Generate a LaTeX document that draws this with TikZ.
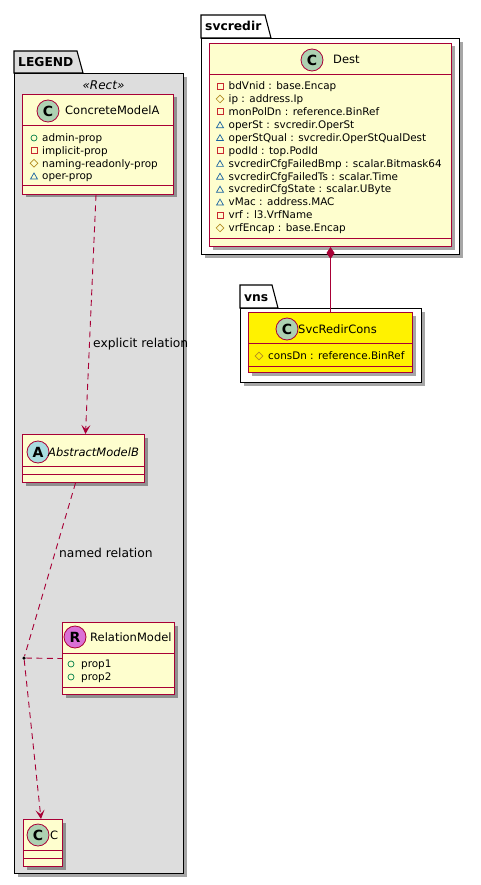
\documentclass[tikz,border=0pt]{standalone}
\usepackage{fontspec}
\setmainfont{DejaVu Sans}
\usepackage{tikz}
\usetikzlibrary{arrows.meta,positioning,calc,shapes.geometric,shadows}
\definecolor{umlred}{HTML}{A80036}
\definecolor{umlfill}{HTML}{FEFECE}
\definecolor{pkggray}{HTML}{DDDDDD}
\definecolor{spotC}{HTML}{ADD1B2}
\definecolor{spotA}{HTML}{A9DCDF}
\definecolor{spotR}{HTML}{DA70D6}
\definecolor{pubgreen}{HTML}{038048}
\definecolor{privred}{HTML}{C82930}
\definecolor{protgold}{HTML}{B38D22}
\definecolor{pkgblue}{HTML}{1963A0}

\begin{document}
\begin{tikzpicture}[x=1pt,y=-1pt]
    \tikzset{
      pkgbody/.style={draw=black,line width=1.1pt,anchor=north west,inner sep=0pt,
        drop shadow={shadow xshift=3pt,shadow yshift=-3pt,opacity=0.35,fill=black}},
      pkgtab/.style={draw=black,line width=1.1pt},
      pkgname/.style={font=\fontsize{12.3}{14}\selectfont\bfseries,anchor=base west,inner sep=0pt},
      clsbox/.style={draw=umlred,fill=umlfill,line width=1pt,anchor=north west,inner sep=0pt,
        drop shadow={shadow xshift=3pt,shadow yshift=-3pt,opacity=0.35,fill=black}},
      hline/.style={draw=umlred,line width=1pt},
      spot/.style={circle,draw=umlred,line width=0.8pt,minimum size=22pt,inner sep=0pt,
        font=\fontsize{14}{14}\selectfont\bfseries},
      cname/.style={font=\fontsize{11.5}{13}\selectfont,anchor=base west,inner sep=0pt},
      attr/.style={font=\fontsize{10.4}{12}\selectfont,anchor=base west,inner sep=0pt},
      pub/.style={circle,draw=pubgreen,line width=0.7pt,minimum size=6pt,inner sep=0pt},
      priv/.style={rectangle,draw=privred,line width=0.7pt,minimum size=6pt,inner sep=0pt},
      prot/.style={diamond,draw=protgold,line width=0.7pt,minimum size=8pt,inner sep=0pt},
      pkgvis/.style={regular polygon,regular polygon sides=3,draw=pkgblue,line width=0.7pt,
        minimum size=8pt,inner sep=0pt},
      lbl/.style={font=\fontsize{12.3}{14}\selectfont,anchor=base west,inner sep=0pt},
      dep/.style={draw=umlred,line width=0.9pt,dash pattern=on 6pt off 4.5pt},
      deptip/.style={-{Stealth[length=9pt,width=9pt,inset=4pt]}},
      comp/.style={draw=umlred,line width=0.9pt,{Diamond[length=12pt,width=8pt]}-}
    }
    \fill[white] (0,0) rectangle (480,885);
    \useasboundingbox (0,0) rectangle (480,885);

    % packages
    \node[pkgbody,fill=pkggray,minimum width=169pt,minimum height=800pt] (legend) at (14,73) {};
    \draw[pkgtab,fill=pkggray] (14,73) -- (14,51) -- (77,51) -- (83,73) -- cycle;
    \node[pkgname] (legendname) at (18,67) {LEGEND};
    \node[font=\fontsize{12}{14}\selectfont\itshape,inner sep=0pt] (rectstereo) at (103.5,85) {«Rect»};

    \node[pkgbody,fill=white,minimum width=258pt,minimum height=216pt] (svcredir) at (201,38) {};
    \draw[pkgtab,fill=white] (201,38) -- (201,15) -- (265,15) -- (271,38) -- cycle;
    \node[pkgname] (svcredirname) at (205,31) {svcredir};

    \node[pkgbody,fill=white,minimum width=181pt,minimum height=74pt] (vns) at (240,308) {};
    \draw[pkgtab,fill=white] (240,308) -- (240,285) -- (272,285) -- (278,308) -- cycle;
    \node[pkgname] (vnsname) at (244,301) {vns};

    % ConcreteModelA
    \node[clsbox,minimum width=151pt,minimum height=100pt] (concreteA) at (22,94) {};
    \draw[hline] (22,126) -- (173,126);
    \draw[hline] (22,186) -- (173,186);
    \node[spot,fill=spotC] (concreteAspot) at (48,111) {C};
    \node[cname] (concreteAname) at (65,115) {ConcreteModelA};
    \node[pub] (concreteAi1) at (34,138) {};
    \node[attr] (concreteA1) at (42,141.8) {admin-prop};
    \node[priv] (concreteAi2) at (34,150.7) {};
    \node[attr] (concreteA2) at (42,154.5) {implicit-prop};
    \node[prot] (concreteAi3) at (34,163.3) {};
    \node[attr] (concreteA3) at (42,167.1) {naming-readonly-prop};
    \node[pkgvis] (concreteAi4) at (34,177) {};
    \node[attr] (concreteA4) at (42,179.8) {oper-prop};

    % AbstractModelB
    \node[clsbox,minimum width=122pt,minimum height=48pt] (abstractB) at (22,434) {};
    \draw[hline] (22,466) -- (144,466);
    \draw[hline] (22,474) -- (144,474);
    \node[spot,fill=spotA] (abstractBspot) at (38,452) {A};
    \node[cname,font=\fontsize{11.5}{13}\selectfont\itshape] (abstractBname) at (48,456) {AbstractModelB};

    % RelationModel
    \node[clsbox,minimum width=112pt,minimum height=72pt] (relModel) at (62,622) {};
    \draw[hline] (62,653) -- (174,653);
    \draw[hline] (62,687) -- (174,687);
    \node[spot,fill=spotR] (relModelspot) at (75,637) {R};
    \node[cname] (relModelname) at (90,641) {RelationModel};
    \node[pub] (relModeli1) at (71,664) {};
    \node[attr] (relModel1) at (81,667.8) {prop1};
    \node[pub] (relModeli2) at (71,677) {};
    \node[attr] (relModel2) at (81,680.8) {prop2};

    % C
    \node[clsbox,minimum width=39pt,minimum height=47pt] (classC) at (23,819) {};
    \draw[hline] (23,850) -- (62,850);
    \draw[hline] (23,858) -- (62,858);
    \node[spot,fill=spotC] (classCspot) at (38,835) {C};
    \node[cname] (classCname) at (50,839) {C};

    % Dest
    \node[clsbox,minimum width=242pt,minimum height=203pt] (dest) at (209,43) {};
    \draw[hline] (209,75) -- (451,75);
    \draw[hline] (209,238) -- (451,238);
    \node[spot,fill=spotC] (destspot) at (312,60) {C};
    \node[cname] (destname) at (333,64) {Dest};
    \node[priv] (desti1) at (220,86) {};
    \node[attr] (dest1) at (228.5,89.8) {bdVnid : base.Encap};
    \node[prot] (desti2) at (220,98.9) {};
    \node[attr] (dest2) at (228.5,102.7) {ip : address.Ip};
    \node[priv] (desti3) at (220,111.8) {};
    \node[attr] (dest3) at (228.5,115.6) {monPolDn : reference.BinRef};
    \node[pkgvis] (desti4) at (220,125.7) {};
    \node[attr] (dest4) at (228.5,128.5) {operSt : svcredir.OperSt};
    \node[pkgvis] (desti5) at (220,138.6) {};
    \node[attr] (dest5) at (228.5,141.4) {operStQual : svcredir.OperStQualDest};
    \node[priv] (desti6) at (220,150.5) {};
    \node[attr] (dest6) at (228.5,154.3) {podId : top.PodId};
    \node[pkgvis] (desti7) at (220,164.4) {};
    \node[attr] (dest7) at (228.5,167.2) {svcredirCfgFailedBmp : scalar.Bitmask64};
    \node[pkgvis] (desti8) at (220,177.3) {};
    \node[attr] (dest8) at (228.5,180.1) {svcredirCfgFailedTs : scalar.Time};
    \node[pkgvis] (desti9) at (220,190.2) {};
    \node[attr] (dest9) at (228.5,193) {svcredirCfgState : scalar.UByte};
    \node[pkgvis] (desti10) at (220,203.1) {};
    \node[attr] (dest10) at (228.5,205.9) {vMac : address.MAC};
    \node[priv] (desti11) at (220,215) {};
    \node[attr] (dest11) at (228.5,218.8) {vrf : l3.VrfName};
    \node[prot] (desti12) at (220,227.9) {};
    \node[attr] (dest12) at (228.5,231.7) {vrfEncap : base.Encap};

    % SvcRedirCons
    \node[clsbox,fill=yellow,minimum width=164pt,minimum height=60pt] (svcRedirCons) at (248,312) {};
    \draw[hline] (248,343) -- (412,343);
    \draw[hline] (248,366) -- (412,366);
    \node[spot,fill=spotC] (svcRedirConsspot) at (287,329) {C};
    \node[cname] (svcRedirConsname) at (298,333) {SvcRedirCons};
    \node[prot] (svcRedirConsi1) at (259,356) {};
    \node[attr] (svcRedirCons1) at (268,359.8) {consDn : reference.BinRef};

    % relations
    \node[circle,fill=black,minimum size=3.5pt,inner sep=0pt] (relpt) at (24,658) {};
    \draw[dep,deptip] ([xshift=-2pt]concreteA.south) -- ([xshift=2pt]abstractB.north);
    \node[lbl] (explicitlbl) at (93,347) {explicit relation};
    \draw[dep] ([xshift=-8pt]abstractB.south) -- (relpt);
    \node[lbl] (namedlbl) at (59,557) {named relation};
    \draw[dep] (relpt) -- (relModel.west);
    \draw[dep,deptip] (relpt) -- ([xshift=-2pt]classC.north);
    \draw[comp] (dest.south) -- (svcRedirCons.north);
  \end{tikzpicture}
\end{document}
